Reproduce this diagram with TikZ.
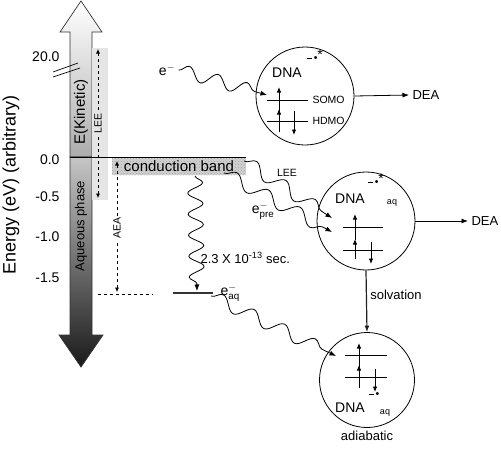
\documentclass[tikz,border=0pt]{standalone}
\usepackage{fontspec}
\setmainfont{Liberation Sans}
\usetikzlibrary{arrows.meta, decorations.pathmorphing, patterns, positioning}

\tikzset{
  orbline/.style={line width=0.9pt},
  spinarrow/.style={line width=0.9pt, -{Latex[length=5.5pt,width=4.5pt]}},
  wavyarrow/.style={line width=0.8pt, -{Latex[length=6.5pt,width=5pt]}, decorate,
    decoration={snake, amplitude=6.5pt, segment length=32pt, post length=7pt}},
  dashedarrow/.style={dashed, line width=0.7pt, {Latex[length=4.5pt,width=4pt]}-{Latex[length=4.5pt,width=4pt]}},
  mainarrow/.style={line width=0.8pt, -{Latex[length=6.5pt,width=5pt]}},
  molecule/.style={circle, draw, line width=0.8pt, minimum size=98pt, inner sep=0pt},
  ticklabel/.style={anchor=east, font=\fontsize{14}{16}\selectfont},
  bigtxt/.style={font=\fontsize{14}{16}\selectfont},
  midtxt/.style={font=\fontsize{13}{15}\selectfont},
  smalltxt/.style={font=\fontsize{10.5}{12}\selectfont},
  tinytxt/.style={font=\fontsize{9}{10}\selectfont}
}
\newcommand{\dnarad}{\rule[2.5pt]{5pt}{1.4pt}\,\textbullet}
\newcommand{\dnastar}{\raisebox{2pt}{\fontsize{14}{14}\selectfont *}}

\begin{document}
\begin{tikzpicture}[x=1pt, y=-1pt]
  \useasboundingbox (0,0) rectangle (501,451);

  % energy axis drawn as a big two-way arrow
  \shade[top color=white, bottom color=gray!65, draw=black!80, line width=0.7pt]
    (70,157) -- (70,32) -- (60,32) -- (81,1) -- (102,32) -- (92,32) -- (92,157) -- cycle;
  \shade[top color=gray!45, bottom color=black!90, draw=black!80, line width=0.7pt]
    (70,157) -- (70,335) -- (59,335) -- (81,367) -- (103,335) -- (92,335) -- (92,157) -- cycle;
  \node[rotate=90, font=\fontsize{15}{17}\selectfont] (ekin) at (81,112) {E(Kinetic)};
  \node[rotate=90, midtxt] (aqph) at (81,226) {Aqueous phase};
  \node[rotate=90, font=\fontsize{18}{20}\selectfont] (ylabel) at (11,185) {Energy (eV) (arbitrary)};

  % ticks
  \node[ticklabel] (t20) at (63,57) {20.0};
  \node[ticklabel] (t00) at (63,160) {0.0};
  \node[ticklabel] (t05) at (63,197) {-0.5};
  \node[ticklabel] (t10) at (63,237) {-1.0};
  \node[ticklabel] (t15) at (63,278) {-1.5};
  \draw[line width=0.7pt] (53,72) -- (78,63);
  \draw[line width=0.7pt] (53,77) -- (80,68);

  % LEE window
  \fill[gray!20] (92,48) rectangle (108,200);
  \coordinate (leetop) at (98,49);
  \coordinate (leebot) at (98,198);
  \draw[dashedarrow] (leetop) -- (leebot)
    node[pos=0.5, rotate=90, fill=gray!20, inner sep=1.5pt, smalltxt] (leelab) {LEE};

  % vacuum level and conduction band
  \draw[line width=0.8pt] (70,157) -- (246,157);
  \node[preaction={fill=gray!35}, pattern=crosshatch dots, pattern color=gray!75,
    minimum width=134pt, minimum height=17pt, inner sep=0pt,
    font=\fontsize{15}{17}\selectfont] (cb) at (179,166.5) {conduction band};

  % AEA
  \coordinate (aeatop) at (117,161);
  \coordinate (aeabot) at (117,292);
  \draw[dashedarrow] (aeatop) -- (aeabot)
    node[pos=0.51, rotate=90, fill=white, inner sep=1.5pt, smalltxt] (aealab) {AEA};
  \draw[dashed, line width=0.7pt] (98,294) -- (153,294);

  % solvated electron level
  \coordinate (aqL) at (173,293);
  \coordinate (aqR) at (213,293);
  \draw[gray!40!black, line width=1.4pt] (aqL) -- (aqR);
  \node[anchor=west, bigtxt] (eaq) at (217,293) {$\mathrm{e}^{-}_{\mathrm{aq}}$};
  \coordinate (cbdrop) at (195,176);
  \coordinate (aqhit) at (197,291);
  \draw[wavyarrow, decoration={amplitude=7.5pt, segment length=21pt}] (cbdrop) -- (aqhit);
  \node[anchor=west, midtxt] (time) at (197,258) {2.3 X 10\textsuperscript{-13} sec.};

  % gas phase DNA
  \node[molecule] (dna1) at (305,96) {};
  \node[bigtxt] (dna1lab) at (287,73) {DNA};
  \node[smalltxt] (dna1sup) at (315,56) {\dnarad\dnastar};
  \draw[orbline] (267,100) -- (308,100);
  \draw[spinarrow] (279,113) -- (279,87);
  \node[anchor=west, smalltxt] (somo) at (309,100) {SOMO};
  \draw[orbline] (267,121) -- (308,121);
  \draw[spinarrow] (279,132) -- (279,109);
  \draw[spinarrow] (294,111) -- (294,135);
  \node[anchor=west, smalltxt] (hdmo) at (309,121) {HDMO};
  \node[bigtxt] (egas) at (167,70) {$\mathrm{e}^{-}$};
  \coordinate (hit1) at (267,95);
  \draw[wavyarrow, decoration={segment length=30pt}] (egas.east) -- (hit1);
  \node[anchor=west, midtxt] (dea1) at (409,95) {DEA};
  \draw[mainarrow] (dna1.east) -- (dea1.west);

  % DNA in water
  \node[molecule] (dna2) at (366,221) {};
  \node[bigtxt] (dna2lab) at (350,199) {DNA};
  \node[tinytxt] (dna2aq) at (392,203) {aq};
  \node[smalltxt] (dna2sup) at (376,180) {\dnarad\dnastar};
  \draw[orbline] (343,227) -- (383,227);
  \draw[spinarrow] (355,240) -- (355,214);
  \draw[orbline] (343,250) -- (383,250);
  \draw[spinarrow] (355,259) -- (355,239);
  \draw[spinarrow] (371,242) -- (371,264);
  \coordinate (cbend) at (244,161);
  \coordinate (cbpre) at (224,173);
  \coordinate (hitlee) at (332,218);
  \coordinate (hitpre) at (332,232);
  \draw[wavyarrow, decoration={segment length=35pt}] (cbend) -- (hitlee);
  \draw[wavyarrow, decoration={segment length=36pt}] (cbpre) -- (hitpre);
  \node[smalltxt] (leewave) at (287,173) {LEE};
  \node[bigtxt] (epre) at (263,211) {$\mathrm{e}^{-}_{\mathrm{pre}}$};
  \node[anchor=west, midtxt] (dea2) at (468,221) {DEA};
  \draw[mainarrow] (dna2.east) -- (dea2.west);

  % adiabatic anion
  \node[molecule, minimum size=95pt] (dna3) at (367,380) {};
  \draw[mainarrow, gray!25!black, line width=1.2pt] (dna2.south) -- (dna3.north)
    node[pos=0.4, anchor=west, midtxt, black] (solv) {solvation};
  \draw[orbline] (345,355) -- (387,355);
  \draw[spinarrow] (359,367) -- (359,343);
  \draw[orbline] (345,377) -- (387,377);
  \draw[spinarrow] (359,388) -- (359,365);
  \draw[spinarrow] (375,369) -- (375,392);
  \node[smalltxt] (dna3sup) at (374,395) {\dnarad};
  \node[bigtxt] (dna3lab) at (350,408) {DNA};
  \node[tinytxt] (dna3aq) at (385,413) {aq};
  \node[below=0pt of dna3, midtxt] (adiab) {adiabatic};
  \coordinate (hit3) at (336,356);
  \draw[wavyarrow, decoration={segment length=34pt}] (aqR) ++(-2,3) -- (hit3);
\end{tikzpicture}
\end{document}
